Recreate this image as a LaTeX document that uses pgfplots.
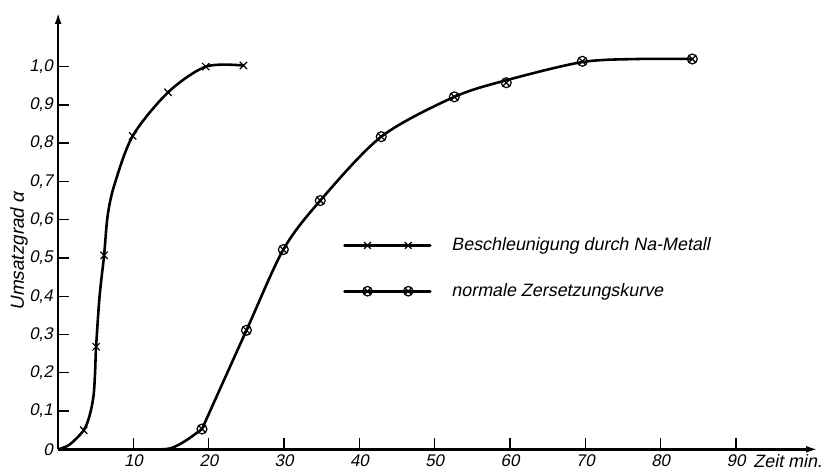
\documentclass[border=0pt]{standalone}
\usepackage{fontspec}
\setmainfont{Liberation Sans}[FakeSlant=0.2]
\usepackage{pgfplots}
\pgfplotsset{compat=1.18}
\usetikzlibrary{arrows.meta}
\begin{document}
\begin{tikzpicture}
\begin{axis}[
  scale only axis,
  width=382.25pt, height=220pt,
  xmin=0, xmax=100.9, ymin=0, ymax=1.143,
  clip=false,
  axis x line=bottom, axis y line=left,
  axis line style={line width=1.3pt},
  x axis line style={-{Latex[length=6pt,width=3.4pt]}},
  y axis line style={-{Latex[length=6pt,width=3.4pt]}},
  xtick={10,20,30,40,50,60,70,80,90},
  xticklabels={10,20,30,40,50,60,70,80,90},
  ytick={0,0.1,0.2,0.3,0.4,0.5,0.6,0.7,0.8,0.9,1.0},
  yticklabels={0,{0,1},{0,2},{0,3},{0,4},{0,5},{0,6},{0,7},{0,8},{0,9},{1,0}},
  tick align=inside,
  major tick length=5.5pt,
  tick style={line width=0.7pt, black},
  /pgf/number format/assume math mode=true,
  ticklabel style={font=\fontsize{8.5}{10}\selectfont, inner sep=2.5pt},
  legend style={draw=none, fill=none, at={(axis cs:37.8,0.565)}, anchor=north west,
    row sep=11pt, font=\fontsize{9}{10}\selectfont, inner sep=0pt,
    /tikz/every odd column/.append style={column sep=8pt}},
  legend cell align=left,
  legend image code/.code={%
    \draw[#1, mark=none, line width=1.4pt, line cap=round] (0pt,0pt) -- (43pt,0pt);
    \draw[#1, only marks] plot coordinates {(11.5pt,0pt) (32pt,0pt)};},
]
% curve: Beschleunigung durch Na-Metall
\addplot[black, line width=1.3pt, smooth, forget plot] coordinates {
  (0,0) (1.5,0.012) (3.4,0.05) (4.2,0.09) (4.7,0.14) (4.9,0.2) (5.04,0.268) (5.5,0.40)
  (6.1,0.507) (6.57,0.61) (7.45,0.69) (9.9,0.819) (14.6,0.933) (19.6,1.0) (24.6,1.003)
};
\addplot[black, only marks, mark=x, mark size=2.6pt, mark options={line width=0.6pt}, forget plot] coordinates {
  (3.4,0.05) (5.04,0.268) (6.1,0.507) (9.9,0.819) (14.6,0.933) (19.6,1.0) (24.6,1.003)
};
% curve: normale Zersetzungskurve
\addplot[black, line width=1.3pt, smooth, forget plot] coordinates {
  (0,0) (7,0) (13.8,0) (15.5,0.007) (17.2,0.026) (19.1,0.053)
};
\addplot[black, line width=1.3pt, smooth, forget plot] coordinates {
  (19.1,0.053) (25.0,0.311) (29.9,0.522)
  (34.8,0.65) (42.9,0.817) (52.6,0.921) (60,0.967) (69.6,1.012) (77,1.02) (84.2,1.02)
};
\addplot[black, only marks, mark=otimes, mark size=2.5pt, mark options={line width=0.6pt, fill=white}, forget plot] coordinates {
  (19.1,0.053) (25.0,0.311) (29.9,0.522) (34.8,0.65) (42.9,0.817) (52.6,0.921)
  (59.5,0.958) (69.6,1.014) (84.2,1.02)
};
\addlegendimage{black, mark=x, mark size=2.4pt, mark options={line width=0.6pt, solid}}
\addlegendentry{Beschleunigung durch Na-Metall}
\addlegendimage{black, mark=otimes, mark size=2.4pt, mark options={line width=0.6pt, solid, fill=white}}
\addlegendentry{normale Zersetzungskurve}
\node[anchor=north west, inner sep=2.5pt, font=\fontsize{9}{10}\selectfont] at (axis cs:91.6,0) {Zeit min.};
\node[rotate=90, anchor=center, font=\fontsize{9.5}{10}\selectfont] at (axis cs:-5.2,0.517) {Umsatzgrad α};
\end{axis}
\path[use as bounding box] (-29.25pt,-9pt) rectangle (384.25pt,226pt);
\end{tikzpicture}
\end{document}
